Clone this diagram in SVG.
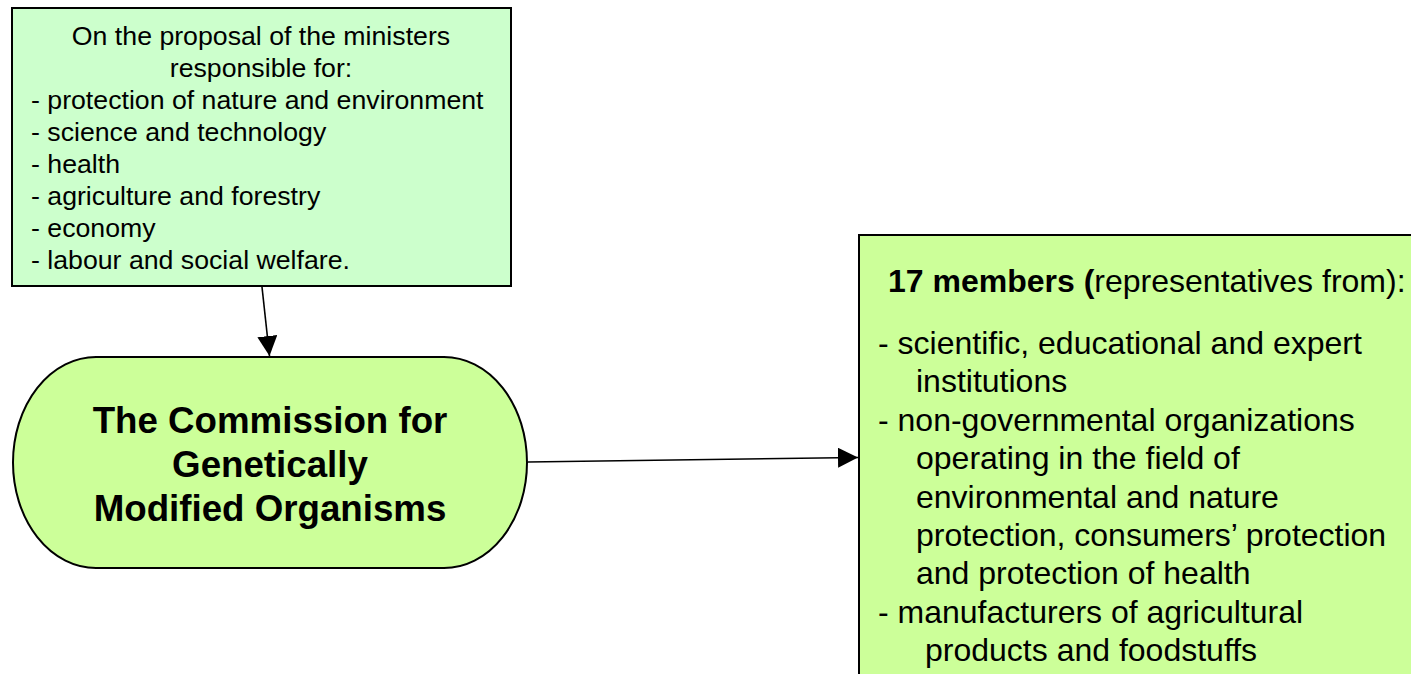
<svg xmlns="http://www.w3.org/2000/svg" width="1411" height="674" viewBox="0 0 1411 674">
  <style>
    .box { stroke: #000; stroke-width: 2; }
    .t { font-family: "Liberation Sans", Arial, sans-serif; fill: #000; }
    .small { font-size: 26.7px; }
    .big { font-size: 32px; }
    .title { font-size: 36.7px; font-weight: bold; }
    .edge { stroke: #000; stroke-width: 1.6; fill: none; }
  </style>
  <defs>
    <marker id="arrow" markerUnits="userSpaceOnUse" markerWidth="21" markerHeight="21" refX="20" refY="10" orient="auto">
      <path d="M0,0 L20,10 L0,20 Z" fill="#000"/>
    </marker>
  </defs>
  <rect width="1411" height="674" fill="#fff"/>

  <!-- Ministers proposing the commission -->
  <g id="ministers">
    <rect class="box" x="12" y="8" width="499" height="278" fill="#CCFFCC"/>
    <text class="t small" text-anchor="middle" x="261" y="45">On the proposal of the ministers</text>
    <text class="t small" text-anchor="middle" x="261" y="77">responsible for:</text>
    <text class="t small" x="31" y="109">- protection of nature and environment</text>
    <text class="t small" x="31" y="141">- science and technology</text>
    <text class="t small" x="31" y="173">- health</text>
    <text class="t small" x="31" y="205">- agriculture and forestry</text>
    <text class="t small" x="31" y="237">- economy</text>
    <text class="t small" x="31" y="269">- labour and social welfare.</text>
  </g>

  <!-- The commission itself: terminator shape with half-ellipse ends -->
  <g id="commission">
    <path class="box" fill="#CCFF99" d="M96,357 H444 A83,105.5 0 0 1 444,568 H96 A83,105.5 0 0 1 96,357 Z"/>
    <text class="t title" text-anchor="middle" x="270" y="433">The Commission for</text>
    <text class="t title" text-anchor="middle" x="270" y="477">Genetically</text>
    <text class="t title" text-anchor="middle" x="270" y="521">Modified Organisms</text>
  </g>

  <!-- Membership of the commission -->
  <g id="members">
    <rect class="box" x="859" y="235" width="560" height="450" fill="#CCFF99"/>
    <text class="t big" x="888" y="292"><tspan font-weight="bold">17 members (</tspan>representatives from):</text>
    <text class="t big" x="878" y="354">- scientific, educational and expert</text>
    <text class="t big" x="916" y="392.4">institutions</text>
    <text class="t big" x="878" y="430.8">- non-governmental organizations</text>
    <text class="t big" x="916" y="469.2">operating in the field of</text>
    <text class="t big" x="916" y="507.6">environmental and nature</text>
    <text class="t big" x="916" y="546">protection, consumers’ protection</text>
    <text class="t big" x="916" y="584.4">and protection of health</text>
    <text class="t big" x="878" y="622.8">- manufacturers of agricultural</text>
    <text class="t big" x="925" y="661.2">products and foodstuffs</text>
  </g>

  <!-- Connectors -->
  <g id="connectors">
    <line class="edge" x1="262" y1="287" x2="269.5" y2="356" marker-end="url(#arrow)"/>
    <line class="edge" x1="528" y1="462" x2="858" y2="457.5" marker-end="url(#arrow)"/>
  </g>
</svg>
